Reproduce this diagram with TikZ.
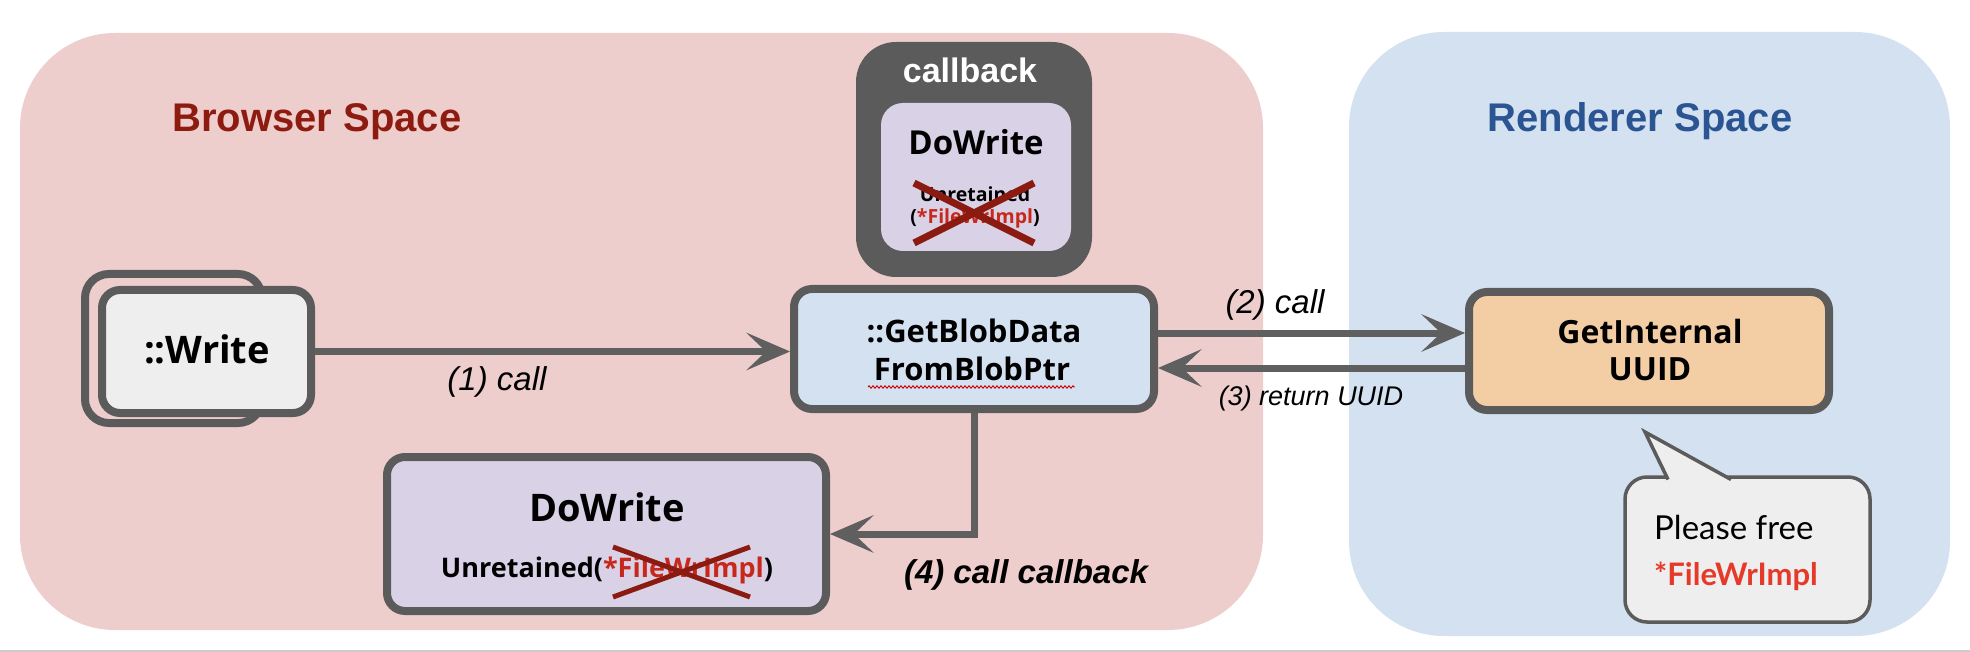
\documentclass[tikz,border=0pt]{standalone}
\usepackage{fontspec}
\setmainfont{Open Sans}
\newfontfamily\lsans{Liberation Sans}
\newfontfamily\latofont{Lato}
\usetikzlibrary{arrows.meta,decorations.pathmorphing}
\definecolor{pinkbg}{RGB}{238,205,205}
\definecolor{bluebg}{RGB}{212,225,240}
\definecolor{boxgray}{RGB}{91,91,91}
\definecolor{arrgray}{RGB}{95,95,95}
\definecolor{lav}{RGB}{217,210,230}
\definecolor{peach}{RGB}{243,205,164}
\definecolor{lblue}{RGB}{212,225,240}
\definecolor{lgray}{RGB}{238,238,238}
\definecolor{darkred}{RGB}{142,27,16}
\definecolor{darkblue}{RGB}{42,85,146}
\definecolor{txtred}{RGB}{200,40,28}
\definecolor{bubred}{RGB}{229,58,42}
\definecolor{xred}{RGB}{139,26,16}
\newcommand\fsz[1]{\fontsize{#1}{#1}\selectfont}
\begin{document}
\begin{tikzpicture}[x=1pt,y=-1pt,
  box/.style={draw=boxgray, line width=8pt, rounded corners=18pt, inner sep=0pt},
  region/.style={rounded corners=95pt, inner sep=0pt},
  lbl/.style={inner sep=0pt, anchor=base},
  arr/.style={draw=arrgray, line width=7pt, -{Stealth[length=44pt,width=38pt,inset=20pt,line width=0pt]}},
  cross/.style={draw=xred, line width=#1},
]
\useasboundingbox (0,0) rectangle (1970,652);
\fill[black!20] (0,649.5) rectangle (1970,652);
% regions
\node[region, fill=pinkbg, minimum width=1243pt, minimum height=597pt] (BS) at (641.5,331.5) {};
\node[region, fill=bluebg, minimum width=601pt, minimum height=604pt] (RS) at (1649.5,334) {};
\node[lbl, text=darkred, font=\lsans\bfseries\fsz{40}] (BSt) at (317,132) {Browser Space};
\node[lbl, text=darkblue, font=\lsans\bfseries\fsz{40}] (RSt) at (1640,132) {Renderer Space};
% callback container
\node[fill=boxgray, rounded corners=40pt, inner sep=0pt, minimum width=236pt, minimum height=235pt] (CB) at (974,159.5) {};
\node[lbl, text=white, font=\lsans\bfseries\fsz{34}] (CBt) at (970,83) {callback};
\node[fill=lav, rounded corners=22pt, inner sep=0pt, minimum width=190pt, minimum height=148pt] (CBi) at (976,177) {};
\node[lbl, font=\bfseries\fsz{33}] (CBd) at (976,155) {DoWrite};
\node[lbl, font=\bfseries\fsz{19.5}] (CBu) at (975,202) {Unretained};
\node[lbl, font=\bfseries\fsz{19.5}] (CBf) at (975,224) {(\textcolor{txtred}{*FileWrImpl})};
\draw[cross=7pt] (914,183) -- (1034,243);
\draw[cross=7pt] (914,243) -- (1034,183);
% ::Write
\node[box, rounded corners=24pt, minimum width=177pt, minimum height=149pt] (Wb) at (173.5,348.5) {};
\node[box, fill=lgray, minimum width=209pt, minimum height=123pt] (W) at (206.5,351.5) {};
\node[lbl, font=\bfseries\fsz{38}] (Wt) at (207,363) {::Write};
% GetBlobData
\node[box, fill=lblue, minimum width=360pt, minimum height=120pt] (GB) at (974,349) {};
\node[lbl, font=\bfseries\fsz{31}] (GB1) at (974,342) {::GetBlobData};
\node[lbl, font=\bfseries\fsz{31}] (GB2) at (972,380) {FromBlobPtr};
\draw[red!80!black, line width=0.9pt, decorate, decoration={zigzag, segment length=4pt, amplitude=1.2pt}] (868,387) -- (1075,387);
% GetInternal UUID
\node[box, fill=peach, minimum width=360pt, minimum height=118pt] (GI) at (1649,351) {};
\node[lbl, font=\bfseries\fsz{32}] (GI1) at (1650,343) {GetInternal};
\node[lbl, font=\bfseries\fsz{32}] (GI2) at (1650,380) {UUID};
% DoWrite bottom
\node[box, fill=lav, minimum width=439pt, minimum height=154pt] (DW) at (606.5,534) {};
\node[lbl, font=\bfseries\fsz{38}] (DW1) at (607,521) {DoWrite};
\node[lbl, font=\bfseries\fsz{27}] (DW2) at (607,577) {Unretained(\textcolor{txtred}{*FileWrImpl})};
\draw[cross=5pt] (613,547) -- (750,597);
\draw[cross=5pt] (613,597) -- (750,547);
% arrows
\draw[arr] (W.east) -- (W.east -| GB.west);
\draw[arr] ([yshift=16pt]GB.east) -- ([yshift=16pt]GB.east -| GI.west);
\draw[arr] ([yshift=-17pt]GI.west) -- ([yshift=-17pt]GI.west -| GB.east);
\draw[arr] (GB.south) |- (DW.east);
\node[lbl, font=\lsans\itshape\fsz{33}] (L1) at (497,390) {(1) call};
\node[lbl, font=\lsans\itshape\fsz{33}] (L2) at (1275,313) {(2) call};
\node[lbl, font=\lsans\itshape\fsz{27}] (L3) at (1311,405) {(3) return UUID};
\node[lbl, font=\lsans\bfseries\itshape\fsz{33}] (L4) at (1026,583) {(4) call callback};
% speech bubble
\node[draw=boxgray, line width=3.5pt, fill=lgray, rounded corners=22pt, inner sep=0pt, minimum width=245pt, minimum height=145pt] (SB) at (1747.5,549.5) {};
\fill[lgray] (1645,432) -- (1668,479.5) -- (1731,479.5) -- cycle;
\draw[boxgray, line width=3.5pt] (1668,479.5) -- (1645,432) -- (1731,479.5);
\node[lbl, anchor=base west, font=\latofont\fsz{33}] (SB1) at (1654,539) {Please free};
\node[lbl, anchor=base west, text=bubred, font=\latofont\bfseries\fsz{31}] (SB2) at (1654,585) {*FileWrImpl};
\end{tikzpicture}
\end{document}
